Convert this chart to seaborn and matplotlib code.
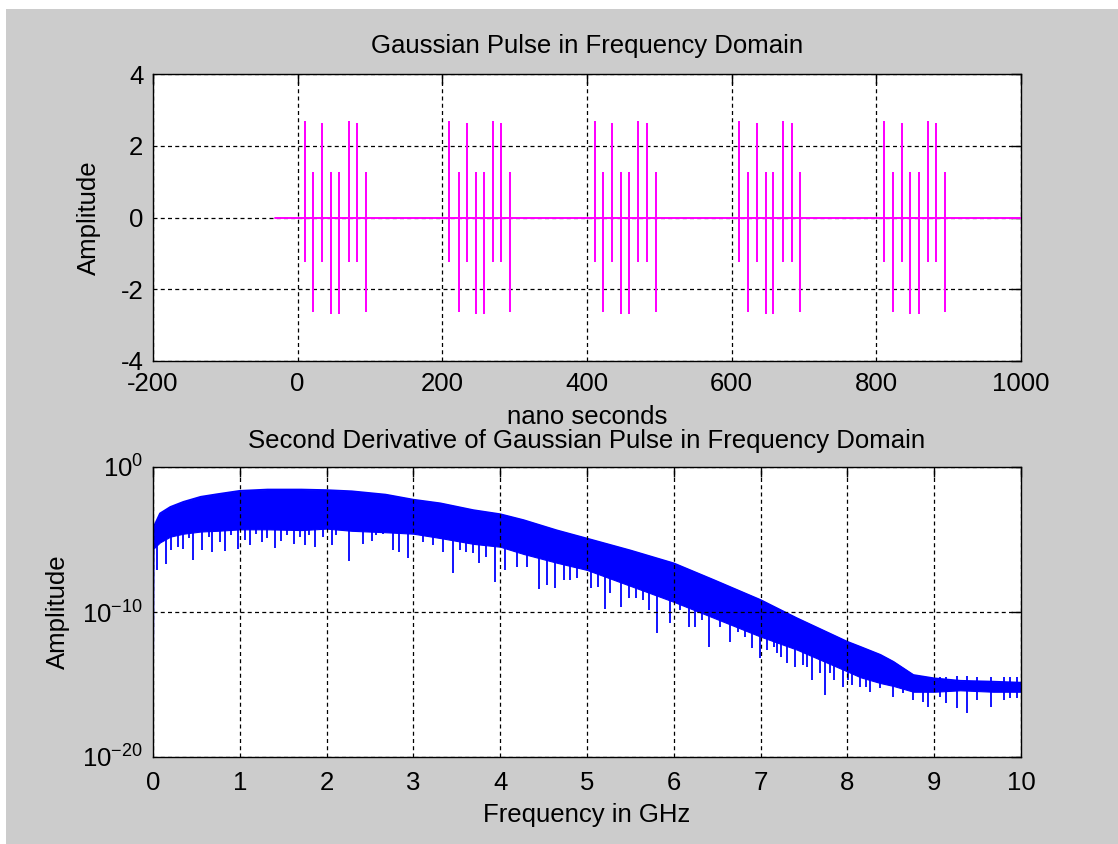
import numpy as np
import pandas as pd
import matplotlib
matplotlib.use("Agg")
import matplotlib.pyplot as plt
from matplotlib.patches import Rectangle
import seaborn as sns

# ---------------- data: top panel (pulse train, nano seconds) ----------------
group1_times = [10.1, 21.6, 34.0, 46.0, 57.1, 70.9, 82.4, 94.0]
group2_times = [209.2, 223.0, 234.6, 246.3, 258.2, 270.6, 281.3, 293.7]
group3_times = [411.0, 422.5, 434.1, 447.0, 458.5, 470.1, 482.5, 495.0]
group4_times = [610.6, 623.0, 635.4, 647.0, 657.5, 671.4, 683.0, 694.5]
group5_times = [810.6, 823.5, 835.1, 846.6, 859.4, 871.0, 882.1, 894.9]
pulse_max = [2.67, 1.23, 2.62, 1.23, 1.23, 2.67, 2.62, 1.23]
pulse_min = [-1.21, -2.60, -1.21, -2.65, -2.65, -1.21, -1.21, -2.60]
trace_start = -32.0
trace_end = 1000.0

top_xticks = [-200, 0, 200, 400, 600, 800, 1000]
top_yticks = [-4, -2, 0, 2, 4]

# ---------------- data: bottom panel (spectrum, log10 amplitude) ----------------
dc_exp = -15.5
band_freq = [0.01, 0.08, 0.2, 0.35, 0.55, 0.74, 1.0, 1.32, 1.71, 2.0, 2.29, 2.68,
             3.0, 3.31, 3.69, 4.0, 4.27, 4.65, 5.0, 5.5, 6.0, 6.46, 7.0, 7.42,
             8.0, 8.15, 8.38, 8.53, 8.76, 9.0, 9.3, 9.68, 10.0]
upper_exp = [-4.1, -3.2, -2.75, -2.4, -2.05, -1.87, -1.64, -1.55, -1.55, -1.59, -1.67, -1.9,
             -2.25, -2.5, -2.97, -3.25, -3.66, -4.36, -4.93, -5.75, -6.64, -7.79, -9.17, -10.43,
             -12.05, -12.4, -12.95, -13.43, -14.34, -14.57, -14.74, -14.8, -14.87]
lower_exp = [-5.6, -5.2, -4.8, -4.6, -4.45, -4.4, -4.3, -4.3, -4.35, -4.25, -4.4, -4.5,
             -4.6, -4.9, -5.3, -5.5, -6.0, -6.6, -7.1, -8.2, -9.3, -10.4, -11.7, -12.6,
             -14.1, -14.5, -14.9, -15.1, -15.5, -15.5, -15.4, -15.5, -15.5]
dip_freq = [0.05, 0.15, 0.21, 0.29, 0.35, 0.41, 0.46, 0.56, 0.64, 0.68, 0.77, 0.83, 0.90, 0.98,
            1.06, 1.12, 1.19, 1.25, 1.31, 1.41, 1.48, 1.54, 1.62, 1.69, 1.75, 1.80, 1.87, 1.96,
            2.06, 2.11, 2.26, 2.34, 2.42, 2.52, 2.57, 2.65, 2.76, 2.83, 2.94, 3.11, 3.23, 3.34,
            3.46, 3.54, 3.61, 3.69, 3.75, 3.84, 3.94, 4.06, 4.19, 4.31, 4.45, 4.54, 4.63, 4.73,
            4.80, 4.88, 5.05, 5.13, 5.21, 5.27, 5.39, 5.48, 5.57, 5.65, 5.72, 5.81, 5.96, 6.07,
            6.17, 6.24, 6.32, 6.41, 6.53, 6.65, 6.74, 6.82, 6.90, 6.99, 7.07, 7.15, 7.19, 7.24,
            7.30, 7.40, 7.49, 7.53, 7.59, 7.68, 7.74, 7.80, 7.84, 7.95, 8.01, 8.05, 8.15, 8.22,
            8.26, 8.38, 8.53, 8.64, 8.76, 8.87, 8.93, 9.07, 9.14, 9.26, 9.38, 9.49, 9.66, 9.80,
            9.87, 9.95]
dip_exp = [-7.13, -6.67, -5.74, -5.51, -5.63, -4.93, -6.39, -5.74, -4.82, -5.86, -5.17, -5.80, -4.71, -5.63,
           -5.05, -5.40, -4.59, -5.17, -4.93, -5.56, -5.09, -4.71, -5.28, -4.82, -5.40, -4.71, -5.51, -4.82,
           -5.40, -4.71, -6.48, -4.48, -5.28, -5.09, -4.71, -4.59, -5.74, -5.86, -6.30, -5.15, -5.38, -5.84,
           -7.33, -5.72, -5.84, -5.95, -6.64, -6.19, -7.91, -7.10, -6.87, -6.87, -8.43, -8.14, -8.37, -7.79,
           -7.79, -7.68, -8.37, -8.25, -9.81, -8.71, -9.63, -9.06, -9.06, -9.20, -9.86, -11.47, -10.78, -9.86,
           -11.01, -11.01, -10.55, -12.39, -11.00, -12.05, -11.36, -11.70, -12.51, -13.20, -12.62, -12.39, -12.85, -13.08,
           -13.54, -13.77, -13.66, -13.77, -14.69, -14.23, -15.72, -14.23, -14.69, -15.15, -14.69, -15.03, -15.15, -15.15,
           -15.50, -15.26, -15.84, -15.61, -16.07, -16.19, -16.53, -15.84, -16.30, -16.64, -16.99, -16.07, -16.53, -16.07,
           -15.95, -15.95]
bottom_xticks = list(range(0, 11))
bottom_yticks = [1e-20, 1e-10, 1e0]

# ---------------- style ----------------
sns.set_theme(style="white")
plt.rcParams["font.family"] = ["Liberation Sans", "DejaVu Sans"]
plt.rcParams["axes.unicode_minus"] = False
plt.rcParams["mathtext.fontset"] = "custom"
plt.rcParams["mathtext.rm"] = "Liberation Sans"
plt.rcParams["mathtext.it"] = "Liberation Sans"
for key in ["text.color", "axes.labelcolor", "xtick.color", "ytick.color", "axes.edgecolor"]:
    plt.rcParams[key] = "black"
FS = 18.5
GRAY = "#cccccc"
MAGENTA = "#ff00ff"
BLUE = "#0000ff"

W, H = 1118, 844
fig = plt.figure(figsize=(W / 100, H / 100), dpi=100)
fig.patch.set_facecolor("white")
fig.patches.append(Rectangle((6 / W, 0), 1, (H - 9) / H, transform=fig.transFigure,
                             facecolor=GRAY, edgecolor="none", zorder=-10))

def px_axes(left, top, right, bottom):
    return fig.add_axes([left / W, 1 - bottom / H, (right - left) / W, (bottom - top) / H])

ax1 = px_axes(153, 74, 1021, 361)
ax2 = px_axes(153, 467, 1021, 757)

def style_axes(ax, grid_on_top):
    ax.set_facecolor("white")
    for s in ax.spines.values():
        s.set_visible(True)
        s.set_color("black")
        s.set_linewidth(1.0)
    ax.tick_params(which="both", direction="in", top=True, right=True, length=7,
                   width=1.0, colors="black", labelsize=FS, labelcolor="black")
    ax.grid(True, which="major", color="black", linestyle=(0, (3.2, 2.6)), linewidth=0.9)
    ax.set_axisbelow(not grid_on_top)

# ---------------- top panel ----------------
all_times = [group1_times, group2_times, group3_times, group4_times, group5_times]
tx, ty = [trace_start], [0.0]
for grp in all_times:
    for t, hi, lo in zip(grp, pulse_max, pulse_min):
        tx += [t, t, t, t]
        ty += [0.0, lo, hi, 0.0]
tx.append(trace_end)
ty.append(0.0)
trace = pd.DataFrame({"t": tx, "amp": ty})
style_axes(ax1, grid_on_top=False)
sns.lineplot(data=trace, x="t", y="amp", sort=False, estimator=None, color=MAGENTA,
             linewidth=1.4, ax=ax1, zorder=3)
ax1.set_xlim(-200, 1000)
ax1.set_ylim(-4, 4)
ax1.set_xticks(top_xticks)
ax1.set_yticks(top_yticks)
ax1.tick_params(axis="x", pad=8)
ax1.tick_params(axis="y", pad=7)
ax1.set_title("Gaussian Pulse in Frequency Domain", fontsize=FS, pad=15, color="black")
ax1.set_xlabel("nano seconds", fontsize=FS, color="black")
ax1.set_ylabel("Amplitude", fontsize=FS, color="black")
ax1.xaxis.set_label_coords(0.5, -0.155)
ax1.yaxis.set_label_coords(-0.060, 0.5)

# ---------------- bottom panel ----------------
bf = np.array(band_freq)
up = 10.0 ** np.array(upper_exp)
lo = 10.0 ** np.array(lower_exp)
env = pd.DataFrame({"f": [0.0] + band_freq, "a": [10.0 ** dc_exp] + list(up)})
ax2.set_yscale("log")
style_axes(ax2, grid_on_top=True)
ax2.fill_between(bf, lo, up, color=BLUE, linewidth=0.8, edgecolor=BLUE, zorder=1.5)
sns.lineplot(data=env, x="f", y="a", sort=False, estimator=None, color=BLUE,
             linewidth=1.2, ax=ax2, zorder=1.5)
dip_top = 10.0 ** np.interp(dip_freq, band_freq, lower_exp)
ax2.vlines(dip_freq, 10.0 ** np.array(dip_exp), dip_top * 10, color=BLUE, linewidth=1.3, zorder=1.5)
ax2.set_xlim(0, 10)
ax2.set_ylim(1e-20, 1e0)
ax2.set_xticks(bottom_xticks)
ax2.set_yticks(bottom_yticks)
ax2.yaxis.set_minor_locator(matplotlib.ticker.NullLocator())
ax2.set_yticklabels([r"$\mathregular{10^{-20}}$", r"$\mathregular{10^{-10}}$", r"$\mathregular{10^{0}}$"])
ax2.tick_params(axis="x", pad=10)
ax2.tick_params(axis="y", pad=7)
ax2.set_title("Second Derivative of Gaussian Pulse in Frequency Domain", fontsize=FS, pad=14, color="black")
ax2.set_xlabel("Frequency in GHz", fontsize=FS, color="black")
ax2.set_ylabel("Amplitude", fontsize=FS, color="black")
ax2.xaxis.set_label_coords(0.5, -0.160)
ax2.yaxis.set_label_coords(-0.096, 0.5)

fig.savefig("out.png", dpi=100, facecolor=fig.get_facecolor())
